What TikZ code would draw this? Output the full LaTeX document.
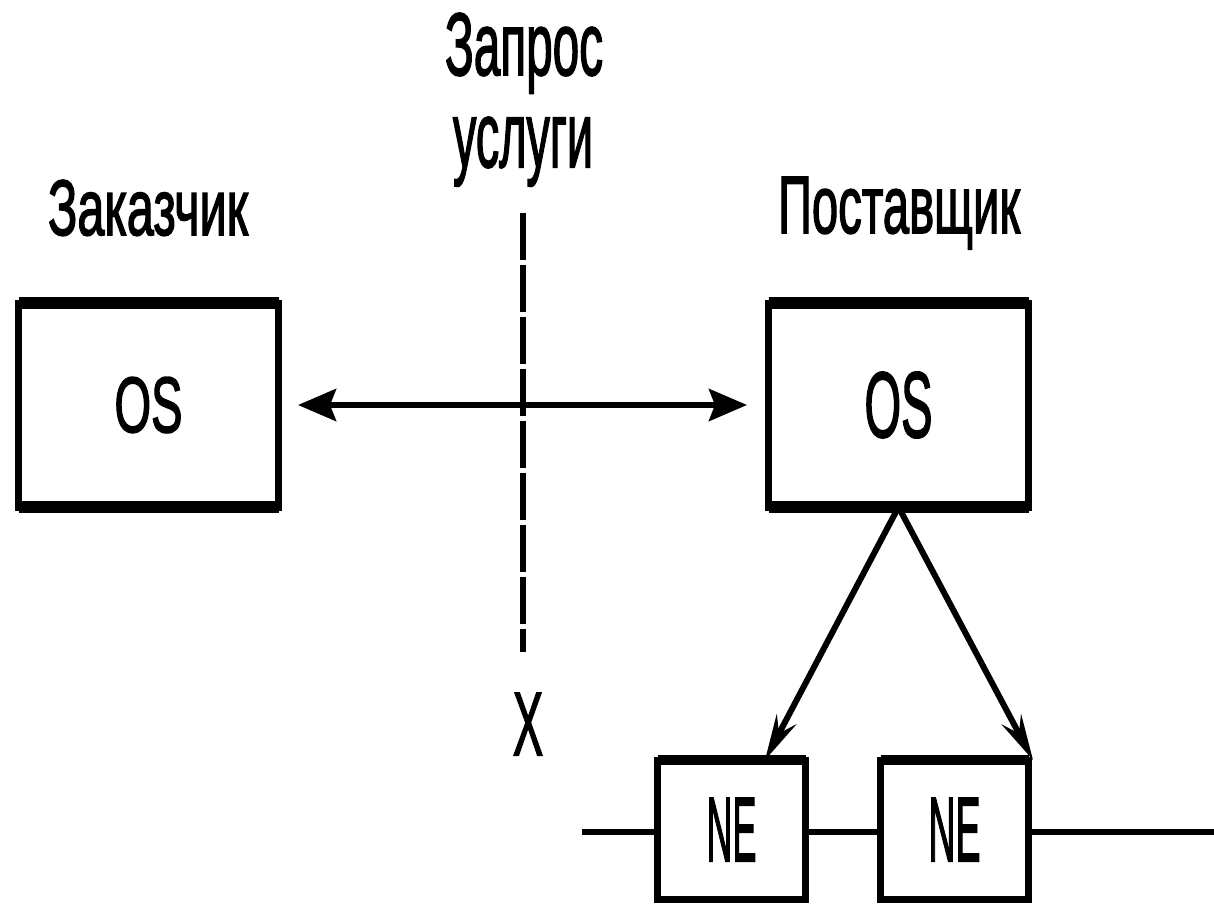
\documentclass[tikz,border=0pt]{standalone}
\usepackage{fontspec}
\setmainfont{Liberation Sans}
\newfontfamily\semibold[FakeBold=2.2]{Liberation Sans}
\usepackage{graphicx}
\usetikzlibrary{arrows.meta}
\newcommand\fitto[3]{\resizebox{#1pt}{#2pt}{\semibold #3}}
\begin{document}
\begin{tikzpicture}[x=1pt,y=-1pt,
  box/.style={draw, line width=7pt, outer sep=0pt, inner sep=0pt},
  osbox/.style={box, minimum width=260pt, minimum height=204pt},
  nebox/.style={box, minimum width=148pt, minimum height=139pt},
  lbl/.style={inner sep=0pt, outer sep=0pt, anchor=base west},
  bar/.style={line width=12pt},
  nebar/.style={line width=10pt},
  conn/.style={line width=6pt},
  bigtip/.style={{Stealth[length=38pt,width=32pt,inset=6pt]}-{Stealth[length=38pt,width=32pt,inset=6pt]}},
  thintip/.style={-{Stealth[length=46pt,width=22pt,inset=16pt]}},
  dashline/.style={line width=6pt, dash pattern=on 47pt off 5pt}]
\useasboundingbox (0,0) rectangle (1214,903);

% labels
\node[lbl] (req1) at (445,75) {\fitto{158}{62}{Запрос}};
\node[lbl] (req2) at (453,167) {\fitto{140}{50}{услуги}};
\node[lbl] (cust) at (48,235) {\fitto{200}{55}{Заказчик}};
\node[lbl] (prov) at (778,233) {\fitto{242}{56}{Поставщик}};

% OS boxes
\node[osbox] (osL) at (148.5,405) {\fitto{68}{55}{OS}};
\node[osbox] (osR) at (898.5,405) {\fitto{68}{65}{OS}};
\draw[bar] (osL.north west) -- (osL.north east);
\draw[bar] (osL.south west) -- (osL.south east);
\draw[bar] (osR.north west) -- (osR.north east);
\draw[bar] (osR.south west) -- (osR.south east);

% NE boxes
\node[nebox] (neL) at (731.5,829.5) {\fitto{50}{63}{NE}};
\node[nebox] (neR) at (954.5,829.5) {\fitto{52}{63}{NE}};
\draw[nebar] (neL.north west) -- (neL.north east);
\draw[nebar] (neR.north west) -- (neR.north east);

% dashed reference line and X
\coordinate (dtop) at (523,213);
\coordinate (dbot) at (523,652);
\draw[dashline] (dtop) -- (dbot);
\node[lbl] (xlbl) at (513,755) {\fitto{30}{62}{X}};

% double arrow
\draw[conn, bigtip, shorten <=19.5pt, shorten >=21.5pt] (osL.east) -- (osR.west);

% arrows OS -> NE
\draw[conn, thintip] (osR.south) -- ([xshift=107.5pt]neL.north west);
\draw[conn, thintip] (osR.south) -- ([xshift=4.5pt]neR.north east);

% network line
\coordinate (lineL) at (582,832);
\coordinate (lineR) at (1214,832);
\draw[conn] (lineL) -- (lineL -| neL.west);
\draw[conn] (neL.east |- lineL) -- (neR.west |- lineL);
\draw[conn] (neR.east |- lineL) -- (lineR);
\end{tikzpicture}
\end{document}
